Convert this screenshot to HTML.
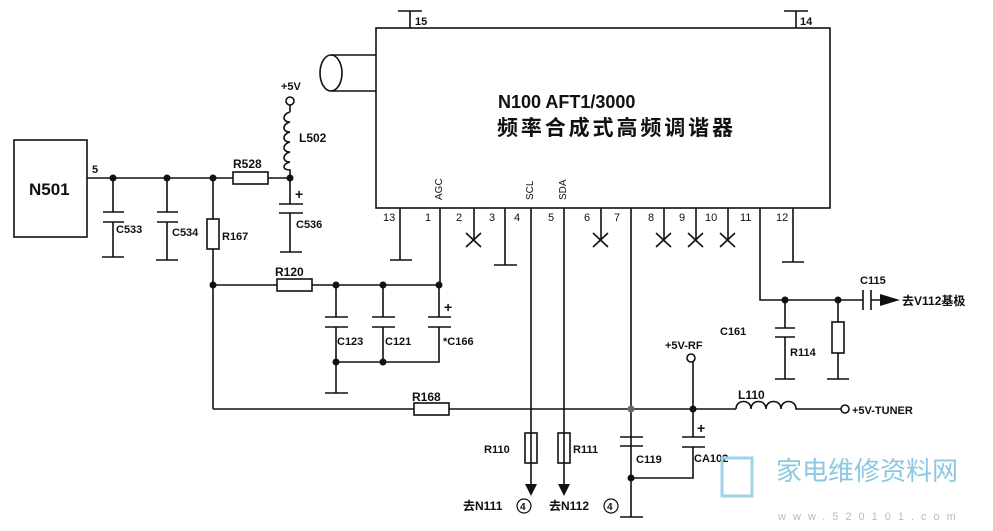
<!DOCTYPE html>
<html><head><meta charset="utf-8"><style>
html,body{margin:0;padding:0;background:#fff;}
svg{display:block;}
text{font-family:"Liberation Sans","Noto Sans CJK SC",sans-serif;fill:#111;}
</style></head><body>
<svg width="993" height="531" viewBox="0 0 993 531" xmlns="http://www.w3.org/2000/svg">
<g stroke="#111" stroke-width="1.6" fill="none">
<!-- IC box -->
<rect x="376" y="28" width="454" height="180"/>
<path d="M410 28V11M398 11H422M796 28V11M784 11H808"/>
<ellipse cx="331" cy="73" rx="11" ry="18"/>
<path d="M331 55H376M331 91H376"/>
<!-- pins -->
<path d="M400 208V260M390 260H412"/>
<path d="M440 208V285"/>
<path d="M474 208V240M466 233L481 247M481 233L466 247"/>
<path d="M505 208V265M494 265H517"/>
<path d="M531 208V485"/>
<path d="M564 208V485"/>
<path d="M601 208V240M593 233L608 247M608 233L593 247"/>
<path d="M631 208V517M620 517H643"/>
<path d="M664 208V240M656 233L671 247M671 233L656 247"/>
<path d="M696 208V240M688 233L703 247M703 233L688 247"/>
<path d="M728 208V240M720 233L735 247M735 233L720 247"/>
<path d="M760 208V300H863M871 300H896"/>
<path d="M793 208V262M782 262H804"/>
<!-- C115 -->
<path d="M863 290V310M871 290V310"/>
<!-- C161 / R114 -->
<path d="M785 300V328M775 328H795M775 337H795M785 337V379M775 379H795"/>
<path d="M838 300V322M838 353V379M827 379H849"/>
<rect x="832" y="322" width="12" height="31"/>
<!-- N501 -->
<rect x="14" y="140" width="73" height="97"/>
<path d="M87 178H233M268 178H290"/>
<path d="M113 178V212M103 212H124M103 222H124M113 222V257M102 257H124"/>
<path d="M167 178V212M157 212H178M157 222H178M167 222V260M156 260H178"/>
<path d="M213 178V219M213 249V409"/>
<rect x="207" y="219" width="12" height="30"/>
<rect x="233" y="172" width="35" height="12"/>
<!-- L502 -->
<path d="M290 105V112"/>
<path d="M290 112 c-8 2 -8 10 0 10 c-8 2 -8 10 0 10 c-8 2 -8 10 0 10 c-8 2 -8 10 0 10 c-8 2 -8 10 0 10 c-8 2 -8 8 0 8 V178"/>
<circle cx="290" cy="101" r="4" fill="#fff"/>
<path d="M290 178V204M279 204H303M279 213H303M290 213V252M280 252H302"/>
<!-- R120 row -->
<path d="M213 285H277M312 285H440"/>
<rect x="277" y="279" width="35" height="12"/>
<path d="M336 285V317M325 317H348M325 327H348M336 327V393M325 393H348"/>
<path d="M383 285V317M372 317H395M372 327H395M383 327V362"/>
<path d="M439 285V317M428 317H451M428 327H451M439 327V362H336"/>
<!-- R168 line -->
<path d="M213 409H414M449 409H736"/>
<rect x="414" y="403" width="35" height="12"/>
<path d="M736 409 c0 -10 15 -10 15 0 c0 -10 15 -10 15 0 c0 -10 15 -10 15 0 c0 -10 15 -10 15 0 H841"/>
<circle cx="845" cy="409" r="4" fill="#fff"/>
<path d="M693 409V362"/>
<circle cx="691" cy="358" r="4" fill="#fff"/>
<!-- R110 R111 -->
<rect x="525" y="433" width="12" height="30"/>
<rect x="558" y="433" width="12" height="30"/>
<!-- C119 CA102 -->
<path d="M620 437H643M620 446H643"/>
<path d="M693 409V437M682 437H705M682 447H705M693 447V478H631"/>
</g>
<!-- filled shapes -->
<g fill="#111" stroke="none">
<path d="M525 484H537L531 496Z"/>
<path d="M558 484H570L564 496Z"/>
<path d="M880 294L900 300L880 306Z"/>
<circle cx="113" cy="178" r="3.5"/><circle cx="167" cy="178" r="3.5"/><circle cx="213" cy="178" r="3.5"/><circle cx="290" cy="178" r="3.5"/>
<circle cx="213" cy="285" r="3.5"/><circle cx="336" cy="285" r="3.5"/><circle cx="383" cy="285" r="3.5"/><circle cx="439" cy="285" r="3.5"/>
<circle cx="336" cy="362" r="3.5"/><circle cx="383" cy="362" r="3.5"/>
<circle cx="785" cy="300" r="3.5"/><circle cx="838" cy="300" r="3.5"/>
<circle cx="631" cy="409" r="3.5" fill="#666"/><circle cx="693" cy="409" r="3.5"/><circle cx="631" cy="478" r="3.5"/>
</g>
<!-- labels -->
<g font-size="13" font-weight="bold">
<text x="415" y="25" font-size="11">15</text>
<text x="800" y="25" font-size="11">14</text>
<text x="498" y="108" font-size="18">N100 AFT1/3000</text>
<text x="497" y="135" font-size="21" textLength="236">频率合成式高频调谐器</text>
<text x="29" y="195" font-size="17">N501</text>
<text x="92" y="173" font-size="11">5</text>
<text x="281" y="90" font-size="11">+5V</text>
<text x="299" y="142" font-size="12">L502</text>
<text x="233" y="168" font-size="12">R528</text>
<text x="295" y="199" font-size="14">+</text>
<text x="296" y="228" font-size="11">C536</text>
<text x="116" y="233" font-size="11">C533</text>
<text x="172" y="236" font-size="11">C534</text>
<text x="222" y="240" font-size="11">R167</text>
<text x="275" y="276" font-size="12">R120</text>
<text x="337" y="345" font-size="11">C123</text>
<text x="385" y="345" font-size="11">C121</text>
<text x="443" y="345" font-size="11">*C166</text>
<text x="444" y="312" font-size="14">+</text>
<text x="412" y="401" font-size="12">R168</text>
<text x="484" y="453" font-size="11">R110</text>
<text x="573" y="453" font-size="11">R111</text>
<text x="636" y="463" font-size="11">C119</text>
<text x="694" y="462" font-size="11">CA102</text>
<text x="697" y="433" font-size="14">+</text>
<text x="665" y="349" font-size="11">+5V-RF</text>
<text x="738" y="399" font-size="12">L110</text>
<text x="852" y="414" font-size="11">+5V-TUNER</text>
<text x="720" y="335" font-size="11">C161</text>
<text x="790" y="356" font-size="11">R114</text>
<text x="860" y="284" font-size="11">C115</text>
<text x="902" y="305" font-size="12">去V112基极</text>
<text x="463" y="510" font-size="12">去N111</text>
<text x="549" y="510" font-size="12">去N112</text>
<g font-weight="normal" font-size="11">
<text x="383" y="221">13</text><text x="425" y="221">1</text><text x="456" y="221">2</text><text x="489" y="221">3</text>
<text x="514" y="221">4</text><text x="548" y="221">5</text><text x="584" y="221">6</text><text x="614" y="221">7</text>
<text x="648" y="221">8</text><text x="679" y="221">9</text><text x="705" y="221">10</text><text x="740" y="221">11</text><text x="776" y="221">12</text>
</g>
<g font-weight="normal" font-size="10">
<text transform="translate(442,200) rotate(-90)">AGC</text>
<text transform="translate(533,200) rotate(-90)">SCL</text>
<text transform="translate(566,200) rotate(-90)">SDA</text>
</g>
</g>
<g fill="none" stroke="#111" stroke-width="1.2">
<circle cx="524" cy="506" r="7"/><circle cx="611" cy="506" r="7"/>
</g>
<text x="520" y="510" font-size="10" font-weight="bold">4</text>
<text x="607" y="510" font-size="10" font-weight="bold">4</text>
<!-- watermark logo -->
<rect x="722" y="458" width="30" height="38" fill="none" stroke="#9fd3ea" stroke-width="3"/>
<text x="776" y="480" font-size="26" style="fill:#8cc7e3">家电维修资料网</text>
<text x="778" y="520" font-size="11" letter-spacing="7" style="fill:#bbb">www.520101.com</text>
</svg>
</body></html>
